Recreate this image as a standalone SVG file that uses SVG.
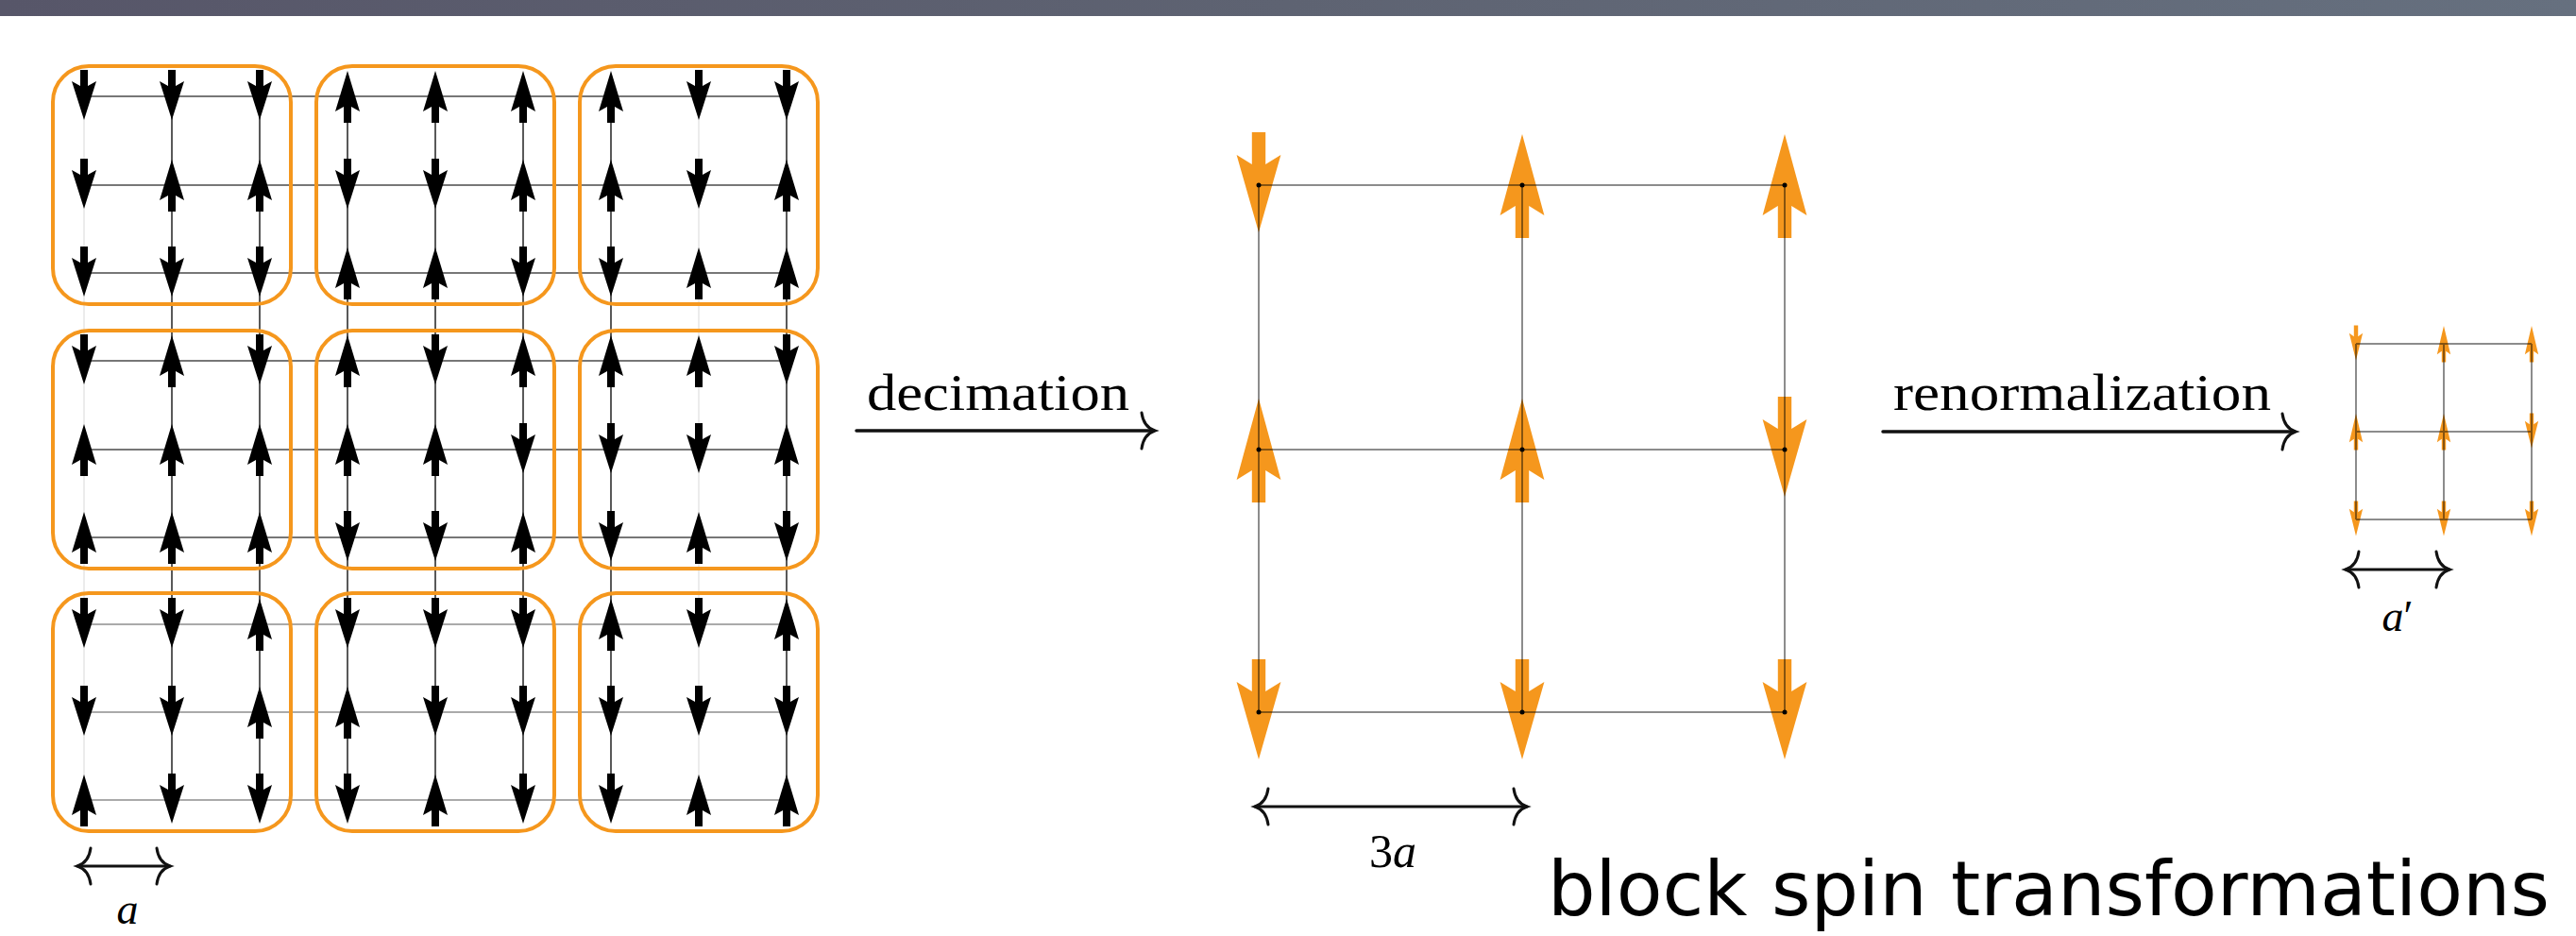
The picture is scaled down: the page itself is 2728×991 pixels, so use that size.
<svg xmlns="http://www.w3.org/2000/svg" xmlns:xlink="http://www.w3.org/1999/xlink" width="2728" height="991" viewBox="0 0 2728 991">
<style>
.k{fill:#000}
.o{fill:#f5971d}
.blk{fill:none;stroke:#f5971d;stroke-width:4}
.hl{stroke:#777;stroke-width:2}
.hl2{stroke:#aaa;stroke-width:2}
.vl{stroke:#222;stroke-width:1.5}
.vf{stroke:#e6e6e6;stroke-width:1.5}
.ml{stroke:#000;stroke-opacity:.45;stroke-width:2;fill:none}
.bar{stroke:#111;stroke-width:3;fill:none;stroke-linecap:round}
.cn{stroke:#111;stroke-width:3.5;fill:none;stroke-linecap:round}
.tex{font-family:"Liberation Serif","DejaVu Serif",serif;fill:#000}
.it{font-style:italic}
.title{font-family:"DejaVu Sans","Noto Sans",sans-serif;font-size:80px;fill:#000}
</style>
<defs>
<linearGradient id="band" x1="0" y1="0" x2="1" y2="0">
<stop offset="0" stop-color="#575669"/>
<stop offset="0.5" stop-color="#5e6372"/>
<stop offset="1" stop-color="#66707f"/>
</linearGradient>
<path id="dn" d="M-4,-28 H4 V-11 L13,-16 L0,25 L-13,-16 L-4,-11 Z"/>
<path id="up" d="M-4,28 H4 V11 L13,16 L0,-27 L-13,16 L-4,11 Z"/>
<g id="dnB"><use xlink:href="#dn" href="#dn" transform="scale(1.8,2)"/></g>
<g id="upB"><use xlink:href="#up" href="#up" transform="scale(1.8,2)"/></g>
<g id="dnS"><use xlink:href="#dn" href="#dn" transform="scale(0.55,0.7)"/></g>
<g id="upS"><use xlink:href="#up" href="#up" transform="scale(0.55,0.7)"/></g>
<path id="hr" d="M-14,-19 Q-12,-4 0,0 Q-12,4 -14,19"/>
<path id="hlft" d="M14,-19 Q12,-4 0,0 Q12,4 14,19"/>
</defs>

<rect id="top-band" x="0" y="0" width="2728" height="17" fill="url(#band)"/>

<g id="fine-lattice">
<g id="fine-lines">
<line class="hl" x1="89" y1="102" x2="833" y2="102"/>
<line class="hl" x1="89" y1="196" x2="833" y2="196"/>
<line class="hl" x1="89" y1="289" x2="833" y2="289"/>
<line class="hl" x1="89" y1="382" x2="833" y2="382"/>
<line class="hl" x1="89" y1="476" x2="833" y2="476"/>
<line class="hl" x1="89" y1="569" x2="833" y2="569"/>
<line class="hl2" x1="89" y1="661" x2="833" y2="661"/>
<line class="hl2" x1="89" y1="754" x2="833" y2="754"/>
<line class="hl2" x1="89" y1="847" x2="833" y2="847"/>
<line class="vf" x1="89" y1="102" x2="89" y2="847"/>
<line class="vl" x1="182" y1="102" x2="182" y2="847"/>
<line class="vl" x1="275" y1="102" x2="275" y2="847"/>
<line class="vl" x1="368" y1="102" x2="368" y2="847"/>
<line class="vl" x1="461" y1="102" x2="461" y2="847"/>
<line class="vl" x1="554" y1="102" x2="554" y2="847"/>
<line class="vl" x1="647" y1="102" x2="647" y2="847"/>
<line class="vf" x1="740" y1="102" x2="740" y2="847"/>
<line class="vl" x1="833" y1="102" x2="833" y2="847"/>
</g>
<g id="blocks">
<rect class="blk" x="56" y="70" width="252" height="252" rx="38"/>
<rect class="blk" x="335" y="70" width="252" height="252" rx="38"/>
<rect class="blk" x="614" y="70" width="252" height="252" rx="38"/>
<rect class="blk" x="56" y="350" width="252" height="252" rx="38"/>
<rect class="blk" x="335" y="350" width="252" height="252" rx="38"/>
<rect class="blk" x="614" y="350" width="252" height="252" rx="38"/>
<rect class="blk" x="56" y="628" width="252" height="252" rx="38"/>
<rect class="blk" x="335" y="628" width="252" height="252" rx="38"/>
<rect class="blk" x="614" y="628" width="252" height="252" rx="38"/>
</g>
<g id="fine-spins" class="k">
<!-- row 1: D D D U U U U D D -->
<use href="#dn" x="89" y="102"/><use href="#dn" x="182" y="102"/><use href="#dn" x="275" y="102"/>
<use href="#up" x="368" y="102"/><use href="#up" x="461" y="102"/><use href="#up" x="554" y="102"/>
<use href="#up" x="647" y="102"/><use href="#dn" x="740" y="102"/><use href="#dn" x="833" y="102"/>
<!-- row 2: D U U D D U U D U -->
<use href="#dn" x="89" y="196"/><use href="#up" x="182" y="196"/><use href="#up" x="275" y="196"/>
<use href="#dn" x="368" y="196"/><use href="#dn" x="461" y="196"/><use href="#up" x="554" y="196"/>
<use href="#up" x="647" y="196"/><use href="#dn" x="740" y="196"/><use href="#up" x="833" y="196"/>
<!-- row 3: D D D U U D D U U -->
<use href="#dn" x="89" y="289"/><use href="#dn" x="182" y="289"/><use href="#dn" x="275" y="289"/>
<use href="#up" x="368" y="289"/><use href="#up" x="461" y="289"/><use href="#dn" x="554" y="289"/>
<use href="#dn" x="647" y="289"/><use href="#up" x="740" y="289"/><use href="#up" x="833" y="289"/>
<!-- row 4: D U D U D U U U D -->
<use href="#dn" x="89" y="382"/><use href="#up" x="182" y="382"/><use href="#dn" x="275" y="382"/>
<use href="#up" x="368" y="382"/><use href="#dn" x="461" y="382"/><use href="#up" x="554" y="382"/>
<use href="#up" x="647" y="382"/><use href="#up" x="740" y="382"/><use href="#dn" x="833" y="382"/>
<!-- row 5: U U U U U D D D U -->
<use href="#up" x="89" y="476"/><use href="#up" x="182" y="476"/><use href="#up" x="275" y="476"/>
<use href="#up" x="368" y="476"/><use href="#up" x="461" y="476"/><use href="#dn" x="554" y="476"/>
<use href="#dn" x="647" y="476"/><use href="#dn" x="740" y="476"/><use href="#up" x="833" y="476"/>
<!-- row 6: U U U D D U D U D -->
<use href="#up" x="89" y="569"/><use href="#up" x="182" y="569"/><use href="#up" x="275" y="569"/>
<use href="#dn" x="368" y="569"/><use href="#dn" x="461" y="569"/><use href="#up" x="554" y="569"/>
<use href="#dn" x="647" y="569"/><use href="#up" x="740" y="569"/><use href="#dn" x="833" y="569"/>
<!-- row 7: D D U D D D U D U -->
<use href="#dn" x="89" y="661"/><use href="#dn" x="182" y="661"/><use href="#up" x="275" y="661"/>
<use href="#dn" x="368" y="661"/><use href="#dn" x="461" y="661"/><use href="#dn" x="554" y="661"/>
<use href="#up" x="647" y="661"/><use href="#dn" x="740" y="661"/><use href="#up" x="833" y="661"/>
<!-- row 8: D D U U D D D D D -->
<use href="#dn" x="89" y="754"/><use href="#dn" x="182" y="754"/><use href="#up" x="275" y="754"/>
<use href="#up" x="368" y="754"/><use href="#dn" x="461" y="754"/><use href="#dn" x="554" y="754"/>
<use href="#dn" x="647" y="754"/><use href="#dn" x="740" y="754"/><use href="#dn" x="833" y="754"/>
<!-- row 9: U D D D U D D U U -->
<use href="#up" x="89" y="847"/><use href="#dn" x="182" y="847"/><use href="#dn" x="275" y="847"/>
<use href="#dn" x="368" y="847"/><use href="#up" x="461" y="847"/><use href="#dn" x="554" y="847"/>
<use href="#dn" x="647" y="847"/><use href="#up" x="740" y="847"/><use href="#up" x="833" y="847"/>
</g>
<g id="scale-a">
<line class="bar" x1="82" y1="917" x2="180" y2="917"/>
<use class="bar" href="#hlft" x="82" y="917"/>
<use class="bar" href="#hr" x="180" y="917"/>
<text class="tex it" x="135" y="978" font-size="46" text-anchor="middle">a</text>
</g>
</g>

<g id="block-lattice">
<g id="block-spins" class="o">
<use href="#dnB" x="1333" y="196"/><use href="#upB" x="1612" y="196"/><use href="#upB" x="1890" y="196"/>
<use href="#upB" x="1333" y="476"/><use href="#upB" x="1612" y="476"/><use href="#dnB" x="1890" y="476"/>
<use href="#dnB" x="1333" y="754"/><use href="#dnB" x="1612" y="754"/><use href="#dnB" x="1890" y="754"/>
</g>
<g id="block-lines">
<path class="ml" d="M1333,196 H1890 M1333,476 H1890 M1333,754 H1890 M1333,196 V754 M1612,196 V754 M1890,196 V754"/>
<g fill="#000">
<circle cx="1333" cy="196" r="2.5"/><circle cx="1612" cy="196" r="2.5"/><circle cx="1890" cy="196" r="2.5"/>
<circle cx="1333" cy="476" r="2.5"/><circle cx="1612" cy="476" r="2.5"/><circle cx="1890" cy="476" r="2.5"/>
<circle cx="1333" cy="754" r="2.5"/><circle cx="1612" cy="754" r="2.5"/><circle cx="1890" cy="754" r="2.5"/>
</g>
</g>
<g id="scale-3a">
<line class="bar" x1="1329" y1="854" x2="1617" y2="854"/>
<use class="bar" href="#hlft" x="1329" y="854"/>
<use class="bar" href="#hr" x="1617" y="854"/>
<text class="tex" x="1475" y="918" font-size="50" text-anchor="middle">3<tspan class="it">a</tspan></text>
</g>
</g>

<g id="renormalized-lattice">
<g id="renorm-spins" class="o">
<use href="#dnS" x="2495" y="364"/><use href="#upS" x="2588" y="364"/><use href="#upS" x="2681" y="364"/>
<use href="#upS" x="2495" y="457"/><use href="#upS" x="2588" y="457"/><use href="#dnS" x="2681" y="457"/>
<use href="#dnS" x="2495" y="550"/><use href="#dnS" x="2588" y="550"/><use href="#dnS" x="2681" y="550"/>
</g>
<path class="ml" d="M2495,364 H2681 M2495,457 H2681 M2495,550 H2681 M2495,364 V550 M2588,364 V550 M2681,364 V550"/>
<g id="scale-a-prime">
<line class="bar" x1="2484" y1="603" x2="2594" y2="603"/>
<use class="bar" href="#hlft" x="2484" y="603"/>
<use class="bar" href="#hr" x="2594" y="603"/>
<text class="tex" x="2539" y="668" font-size="46" text-anchor="middle"><tspan class="it">a</tspan>′</text>
</g>
</g>

<g id="connectors">
<g id="decimation">
<line class="cn" x1="907" y1="456" x2="1222" y2="456"/>
<use class="bar" href="#hr" x="1223" y="456"/>
<text class="tex" x="918" y="434" font-size="54" textLength="278" lengthAdjust="spacingAndGlyphs">decimation</text>
</g>
<g id="renormalization">
<line class="cn" x1="1994" y1="457" x2="2430" y2="457"/>
<use class="bar" href="#hr" x="2431" y="457"/>
<text class="tex" x="2005" y="434" font-size="54" textLength="400" lengthAdjust="spacingAndGlyphs">renormalization</text>
</g>
</g>

<g id="title">
<text class="title" x="1639" y="969" textLength="1061" lengthAdjust="spacingAndGlyphs">block spin transformations</text>
</g>
</svg>
